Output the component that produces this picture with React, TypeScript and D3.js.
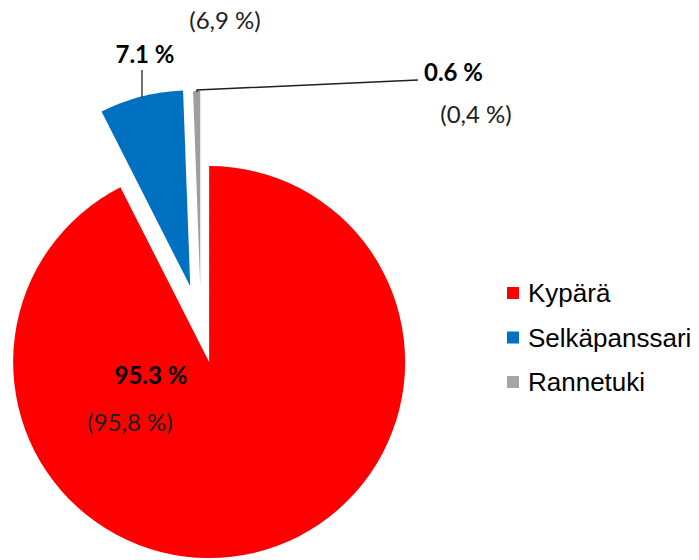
import React from "react";
import * as d3 from "d3";

const categories = ["Kypärä", "Selkäpanssari", "Rannetuki"];
const values = [95.3, 7.1, 0.6];
const labelMain = ["95.3 %", "7.1 %", "0.6 %"];
const labelPrev = ["(95,8 %)", "(6,9 %)", "(0,4 %)"];
const colors = ["#FF0000", "#0070C0", "#A5A5A5"];
const explode = [35, 43, 41];

const W = 699;
const H = 560;
const CX = 201;
const CY = 328;
const R = 196;

const labelFont = "Lato, 'Open Sans', sans-serif";
const legendFont = "'Liberation Sans', Arial, sans-serif";

export default function App() {
  const pie = d3
    .pie<number>()
    .sort(null)
    .value((d) => d)
    .startAngle(0)
    .endAngle(2 * Math.PI);
  const arcs = pie(values);
  const arcGen = d3.arc<d3.PieArcDatum<number>>().innerRadius(0).outerRadius(R);

  const offsets = arcs.map((a, i) => {
    const mid = (a.startAngle + a.endAngle) / 2;
    return [Math.sin(mid) * explode[i], -Math.cos(mid) * explode[i]];
  });

  // label layout positions (text anchors)
  const lab = [
    { main: [151, 384], prev: [130, 431], anchor: "middle" },
    { main: [145, 63], prev: [225, 29], anchor: "middle" },
    { main: [424, 81], prev: [476, 123], anchor: "start" },
  ];

  const gx = CX + offsets[2][0];
  const gy = CY + offsets[2][1];

  return (
    <svg
      width={W}
      height={H}
      style={{ position: "absolute", left: 0, top: 0, background: "#fff" }}
    >
      <defs>
        <radialGradient id="grayGrad" gradientUnits="userSpaceOnUse" cx={gx} cy={gy} r={R}>
          <stop offset="0" stopColor="#ffffff" />
          <stop offset="0.45" stopColor="#d9d9d9" />
          <stop offset="1" stopColor="#9e9e9e" />
        </radialGradient>
      </defs>
      {arcs.map((a, i) => (
        <path
          key={categories[i]}
          d={arcGen(a) || ""}
          transform={`translate(${CX + offsets[i][0]},${CY + offsets[i][1]})`}
          fill={i === 2 ? "url(#grayGrad)" : colors[i]}
        />
      ))}
      {/* leader lines */}
      <line x1={142} y1={70} x2={142} y2={98} stroke="#404040" strokeWidth={1.5} />
      <polyline points="197,92 197,90 418,80" fill="none" stroke="#202020" strokeWidth={1.5} />
      {/* data labels */}
      {arcs.map((a, i) => (
        <g key={"lab" + i} fontFamily={labelFont} fontSize={24} fill="#000">
          <text
            x={lab[i].main[0]}
            y={lab[i].main[1]}
            textAnchor={lab[i].anchor as any}
            fontWeight="bold"
          >
            {labelMain[i]}
          </text>
          <text
            x={lab[i].prev[0]}
            y={lab[i].prev[1]}
            textAnchor="middle"
            fill="#202020"
          >
            {labelPrev[i]}
          </text>
        </g>
      ))}
      {/* legend */}
      {categories.map((c, i) => (
        <g key={"leg" + c} transform={`translate(507,${287 + i * 44.5})`}>
          <rect x={0} y={0} width={12} height={12} fill={colors[i]} />
          <text x={21} y={15} fontFamily={legendFont} fontSize={26} fill="#000">
            {c}
          </text>
        </g>
      ))}
    </svg>
  );
}
